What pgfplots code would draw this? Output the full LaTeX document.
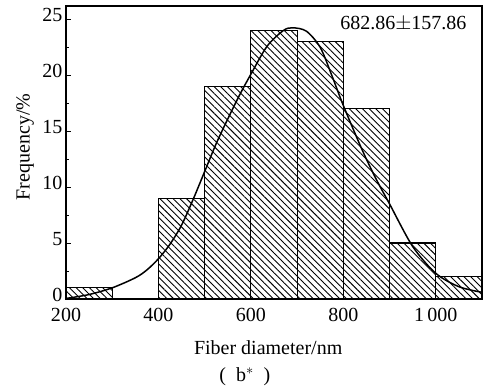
\documentclass[border=0pt]{standalone}
\usepackage{pgfplots}
\pgfplotsset{compat=1.18}
\usepackage{fontspec}
\setmainfont{Liberation Serif}
\usetikzlibrary{patterns.meta,calc}
\begin{document}
\begin{tikzpicture}
\begin{axis}[
  scale only axis,
  width=416pt, height=293pt,
  xmin=200, xmax=1100,
  ymin=0, ymax=26.2,
  xtick={200,400,600,800,1000},
  xticklabels={200,400,600,800,1\,000},
  ytick={0,5,10,15,20,25},
  minor ytick={2.5,7.5,12.5,17.5,22.5},
  tick pos=left,
  tick align=inside,
  major tick length=5pt,
  minor tick length=3pt,
  x tick style={draw=none},
  axis line style={line width=1.1pt},
  every tick/.style={line width=0.8pt, black},
  /pgf/number format/assume math mode=true,
  tick label style={font=\fontsize{20}{22}\selectfont},
  xticklabel style={yshift=-6pt},
  yticklabel style={yshift=4pt},
  label style={font=\fontsize{20}{22}\selectfont},
  xlabel={Fiber diameter/nm},
  ylabel={Frequency/\%},
  xlabel style={at={(axis description cs:0.486,-0.165)}, anchor=center},
  ylabel style={at={(axis description cs:-0.098,0.519)}, anchor=center},
  clip=false,
]
\addplot[ybar interval, draw=black, line width=1.2pt,
  pattern={Lines[angle=-45,distance=4.7pt,line width=0.9pt]}]
  coordinates {(200,1) (300,0) (400,9) (500,19) (600,24) (700,23) (800,17) (900,5) (1000,2) (1100,2)};
\addplot[smooth, black, line width=1.5pt, mark=none] coordinates {
(200,0.05) (250,0.4) (300,1.0) (350,1.9) (375,2.6) (400,3.6) (425,4.9) (450,6.6) (475,8.9)
(500,11.4) (525,13.9) (550,16.1) (575,18.2) (600,20.1) (635,22.6) (670,24.0)
(690,24.25) (720,23.95) (750,22.5) (775,20.0) (800,17.3) (840,13.4) (870,10.8)
(900,8.5) (950,4.7) (1000,2.3) (1050,1.1) (1100,0.6)};
\node[anchor=east, font=\fontsize{20}{22}\selectfont] at (rel axis cs:0.971,0.9386) {682.86$\pm$157.86};
\node[anchor=center, font=\fontsize{20}{22}\selectfont] at (axis description cs:0.430,-0.265) {(\enspace b$^{*}$\enspace)};
\end{axis}
\pgfresetboundingbox
\path ($(current axis.south west)+(-66pt,-92pt)$) rectangle ($(current axis.north east)+(4pt,6pt)$);
\end{tikzpicture}
\end{document}
